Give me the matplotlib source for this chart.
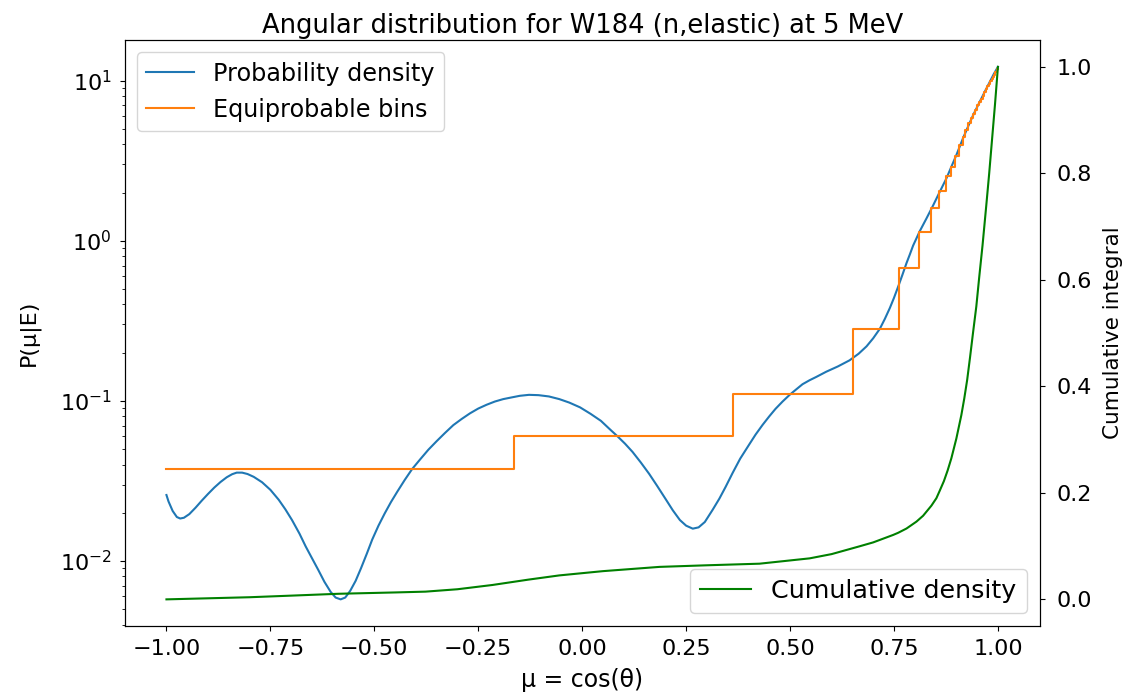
# Angular distribution plot: W184 (n,elastic) at 5 MeV
import matplotlib
matplotlib.use("Agg")
import matplotlib.pyplot as plt

# probability density P(mu|E)
mu_pdf = [-1.000, -0.995, -0.985, -0.975, -0.967, -0.958, -0.945, -0.930, -0.915,
          -0.900, -0.885, -0.870, -0.855, -0.842, -0.831, -0.818, -0.805, -0.790,
          -0.770, -0.750, -0.730, -0.714, -0.698, -0.680, -0.665, -0.650, -0.635,
          -0.620, -0.605, -0.593, -0.581, -0.570, -0.558, -0.545, -0.532, -0.518,
          -0.505, -0.490, -0.475, -0.460, -0.445, -0.427, -0.409, -0.390, -0.370,
          -0.350, -0.330, -0.310, -0.290, -0.270, -0.250, -0.230, -0.210, -0.190,
          -0.170, -0.150, -0.128, -0.105, -0.080, -0.055, -0.031, -0.005, 0.020,
          0.045, 0.065, 0.085, 0.103, 0.121, 0.141, 0.161, 0.180, 0.200, 0.218,
          0.235, 0.250, 0.266, 0.280, 0.295, 0.314, 0.330, 0.345, 0.362, 0.380,
          0.400, 0.417, 0.434, 0.450, 0.465, 0.482, 0.499, 0.515, 0.530, 0.547,
          0.563, 0.587, 0.615, 0.643, 0.665, 0.684, 0.700, 0.716, 0.728, 0.740,
          0.750, 0.761, 0.770, 0.780, 0.788, 0.796, 0.812, 0.828, 0.843, 0.860,
          0.876, 0.886, 0.900, 0.916, 0.930, 0.9405, 0.957, 0.970, 0.981, 0.990, 1.000]
pdf = [0.0258, 0.0235, 0.0205, 0.0188, 0.0184, 0.0186, 0.0196, 0.0215, 0.0238,
       0.0262, 0.0287, 0.0311, 0.0333, 0.0348, 0.0356, 0.0356, 0.0349, 0.0335,
       0.0310, 0.0278, 0.0241, 0.0210, 0.0180, 0.0148, 0.0123, 0.0104, 0.0088,
       0.0074, 0.0064, 0.0059, 0.00575, 0.0059, 0.0065, 0.0075, 0.0090, 0.0111,
       0.0136, 0.0166, 0.0198, 0.0233, 0.0270, 0.0320, 0.0375, 0.0430, 0.0495,
       0.0560, 0.0630, 0.0705, 0.0770, 0.0835, 0.0895, 0.0945, 0.0990, 0.1025,
       0.1050, 0.1075, 0.1090, 0.1085, 0.1065, 0.1025, 0.0975, 0.0910, 0.0830,
       0.0750, 0.0670, 0.0600, 0.0540, 0.0480, 0.0412, 0.0350, 0.0295, 0.0245, 0.0207,
       0.0180, 0.0166, 0.0159, 0.0162, 0.0175, 0.0209, 0.0245, 0.0290, 0.0355, 0.0435,
       0.0525, 0.0615, 0.0708, 0.0800, 0.0891, 0.0990, 0.109, 0.118, 0.127, 0.1345,
       0.141, 0.152, 0.164, 0.179, 0.197, 0.219, 0.246, 0.282, 0.325, 0.380,
       0.440, 0.525, 0.610, 0.724, 0.820, 0.933, 1.148, 1.377, 1.64, 2.02,
       2.45, 2.82, 3.43, 4.37, 5.30, 6.10, 7.45, 8.70, 9.90, 11.0, 12.2]

# equiprobable bins (32 bins)
bin_edges = [-1.0, -0.164, 0.362, 0.651, 0.761, 0.809, 0.839, 0.859, 0.875, 0.886,
             0.8971, 0.9066, 0.9148, 0.9220, 0.9285, 0.9344, 0.9399, 0.9451, 0.9500,
             0.9546, 0.9590, 0.9632, 0.9672, 0.9710, 0.9746, 0.9781, 0.9816, 0.9848,
             0.9880, 0.9911, 0.9941, 0.9970, 1.0]
bin_heights = [0.0377, 0.0601, 0.110, 0.283, 0.678, 1.13, 1.61, 2.05, 2.55,
               2.90, 3.40, 3.95, 4.45, 4.95, 5.45, 5.85, 6.20, 6.60, 7.00, 7.35,
               7.70, 8.05, 8.45, 8.90, 9.20, 9.50, 9.90, 10.2, 10.5, 10.9, 11.3, 11.8]

# cumulative density
mu_cdf = [-1.0, -0.9, -0.8, -0.7, -0.586, -0.45, -0.377, -0.3, -0.216, -0.13, -0.055,
          0.05, 0.186, 0.3, 0.4265, 0.547, 0.6, 0.667, 0.7, 0.748, 0.76, 0.78, 0.804,
          0.82, 0.84, 0.852, 0.86, 0.87, 0.879, 0.888, 0.90, 0.912, 0.919, 0.926,
          0.933, 0.940, 0.948, 0.955, 0.963, 0.972, 0.979, 0.986, 0.993, 1.0]
cdf = [0.0, 0.002, 0.004, 0.007, 0.0105, 0.013, 0.0145, 0.019, 0.027, 0.037, 0.045,
       0.053, 0.061, 0.064, 0.067, 0.077, 0.085, 0.0996, 0.107, 0.121, 0.125, 0.133, 0.146,
       0.157, 0.176, 0.190, 0.204, 0.222, 0.242, 0.265, 0.302, 0.346, 0.377, 0.412,
       0.455, 0.50, 0.55, 0.605, 0.665, 0.74, 0.80, 0.865, 0.93, 1.0]

fig, ax = plt.subplots(figsize=(11.25, 6.94), dpi=100)
fig.subplots_adjust(left=0.111, right=0.924, top=0.942, bottom=0.098)

ax.semilogy(mu_pdf, pdf, color="C0", label="Probability density")
ax.step(bin_edges, bin_heights + [bin_heights[-1]], where="post",
        color="C1", label="Equiprobable bins")
ax.set_xlabel("μ = cos(θ)", fontsize=17, labelpad=6)
ax.set_ylabel("P(μ|E)", fontsize=16, labelpad=14)
ax.set_title("Angular distribution for W184 (n,elastic) at 5 MeV", fontsize=18.5, pad=5)
ax.tick_params(axis="x", labelsize=16, pad=6)
ax.tick_params(axis="y", labelsize=16, pad=6)
ax.legend(loc="upper left", fontsize=17.2)

ax2 = ax.twinx()
ax2.plot(mu_cdf, cdf, color="green", label="Cumulative density")
ax2.set_ylabel("Cumulative integral", fontsize=15.5, labelpad=8)
ax2.tick_params(labelsize=16, pad=9)
ax2.legend(loc="lower right", fontsize=18.3)

fig.savefig("out.png")
